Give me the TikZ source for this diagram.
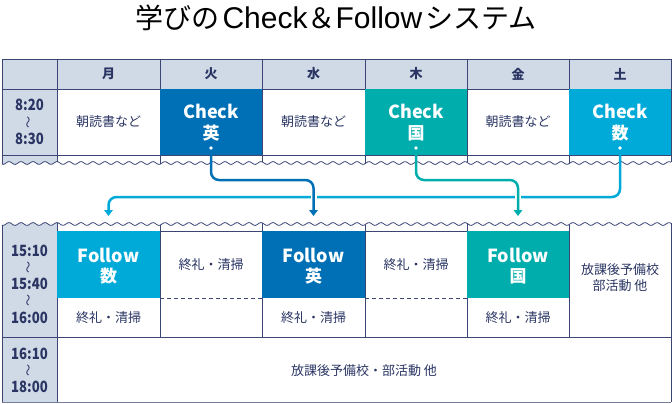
\documentclass[tikz,border=0pt]{standalone}
\usepackage{fontspec}
\usepackage{graphicx}
\setmainfont{Noto Sans CJK JP}
\newfontfamily\latinf{Liberation Sans}
\usetikzlibrary{arrows.meta}
\definecolor{hdr}{HTML}{D0DAE6}
\definecolor{nv}{HTML}{3B4675}
\definecolor{tx}{HTML}{2A3563}
\definecolor{cE}{HTML}{0070B6}
\definecolor{cK}{HTML}{00ADAD}
\definecolor{cS}{HTML}{00AAD8}
\newcommand\vtil{\rotatebox{90}{\fontsize{12}{12}\selectfont 〜}}
\tikzset{
  grid/.style={draw=nv, line width=0.8pt},
  wavy/.style={draw=nv, line width=0.8pt},
  dayt/.style={text=tx, font=\fontsize{13}{15}\selectfont\bfseries, inner sep=0pt},
  cellt/.style={text=tx, font=\fontsize{13}{16}\selectfont, align=center, inner sep=0pt},
  tmt/.style={text=tx, font=\fontsize{15.5}{17}\selectfont\bfseries, inner sep=0pt},
  tilt/.style={text=tx, inner sep=0pt},
  chkt/.style={text=white, font=\fontsize{18}{20}\selectfont\bfseries, inner sep=0pt},
  subj/.style={text=white, font=\fontsize{17}{19}\selectfont\bfseries, inner sep=0pt},
  arr/.style={line width=2.5pt, rounded corners=8pt, -{Triangle[width=8.5pt,length=6pt]}},
}
\begin{document}
\begin{tikzpicture}[x=1pt,y=-1pt,
  declare function={wv(\t)=1.4*sin(30*mod(\t,12));}]
\useasboundingbox (0,0) rectangle (672,404);
% title
\node (title) at (336,18) {\fontsize{28}{30}\selectfont 学びの\hspace{3pt}{\latinf\fontsize{30}{30}\selectfont Check}＆{\latinf\fontsize{30}{30}\selectfont Follow}\hspace{3pt}システム};
% ---------- top table fills
\fill[hdr] (2,59) rectangle (671,89);
\fill[hdr] (2,89) -- (57,89) -- plot[domain=57:2, samples=40] (\x,{163+wv(\x)}) -- cycle;
% top lines
\draw[grid] (2,59) -- (671,59);
\draw[grid] (2,89) -- (671,89);
\draw[grid] (2,155) -- (671,155);
\foreach \xx in {2,57,160,262,365,467,569,671}
  \draw[grid] (\xx,59) -- (\xx,{163+wv(\xx)});
\draw[wavy] plot[domain=2:671, samples=500] (\x,{163+wv(\x)});
% colored check cells
\fill[cE] (160,89) rectangle (262,155);
\fill[cK] (365,89) rectangle (467,155);
\fill[cS] (569,89) rectangle (671,155);
% headers
\node[dayt] (d1) at (108.5,74) {月};
\node[dayt] (d2) at (211,74) {火};
\node[dayt] (d3) at (313.5,74) {水};
\node[dayt] (d4) at (416,74) {木};
\node[dayt] (d5) at (518,74) {金};
\node[dayt] (d6) at (620,74) {土};
% time top
\node[tmt] (t1a) at (29.5,105) {\scalebox{0.85}[1]{8:20}};
\node[tilt] (t1b) at (29.5,122) {\vtil};
\node[tmt] (t1c) at (29.5,139) {\scalebox{0.85}[1]{8:30}};
% top cells
\node[cellt] (m1) at (108.5,122) {朝読書など};
\node[chkt] (ce1) at (211,111) {Check};
\node[subj] (ce2) at (211,133) {英};
\node[cellt] (m3) at (313.5,122) {朝読書など};
\node[chkt] (ck1) at (416,111) {Check};
\node[subj] (ck2) at (416,133) {国};
\node[cellt] (m5) at (518,122) {朝読書など};
\node[chkt] (cs1) at (620,111) {Check};
\node[subj] (cs2) at (620,133) {数};
% ---------- bottom table fills
\fill[hdr] plot[domain=2:57, samples=40] (\x,{224+wv(\x)}) -- (57,402) -- (2,402) -- cycle;
\foreach \xx in {57,160,262,365,467,569}
  \draw[grid] (\xx,{224+wv(\xx)}) -- (\xx,337);
\draw[grid] (57,337) -- (57,402);
\draw[grid] (2,{224+wv(2)}) -- (2,402);
\draw[grid] (671,{224+wv(671)}) -- (671,402);
\draw[grid] (57,231) -- (569,231);
\draw[grid] (2,337) -- (671,337);
\draw[grid, draw=nv!70] (2,402) -- (671,402);
\draw[grid, dash pattern=on 4pt off 3pt] (160,298) -- (262,298);
\draw[grid, dash pattern=on 4pt off 3pt] (365,298) -- (467,298);
\draw[wavy] plot[domain=2:671, samples=500] (\x,{224+wv(\x)});
\fill[cS] (57,231) rectangle (160,298);
\fill[cE] (262,231) rectangle (365,298);
\fill[cK] (467,231) rectangle (569,298);
% time bottom
\node[tmt] (t2a) at (29.5,251) {\scalebox{0.85}[1]{15:10}};
\node[tilt] (t2b) at (29.5,267.5) {\vtil};
\node[tmt] (t2c) at (29.5,284) {\scalebox{0.85}[1]{15:40}};
\node[tilt] (t2d) at (29.5,300.5) {\vtil};
\node[tmt] (t2e) at (29.5,318) {\scalebox{0.85}[1]{16:00}};
\node[tmt] (t3a) at (29.5,354) {\scalebox{0.85}[1]{16:10}};
\node[tilt] (t3b) at (29.5,370.5) {\vtil};
\node[tmt] (t3c) at (29.5,387) {\scalebox{0.85}[1]{18:00}};
% bottom cells
\node[chkt] (fs1) at (108.5,255) {Follow};
\node[subj] (fs2) at (108.5,276) {数};
\node[cellt] (s2) at (211,265) {終礼・清掃};
\node[chkt] (fe1) at (313.5,255) {Follow};
\node[subj] (fe2) at (313.5,276) {英};
\node[cellt] (s4) at (416,265) {終礼・清掃};
\node[chkt] (fk1) at (518,255) {Follow};
\node[subj] (fk2) at (518,276) {国};
\node[cellt] (h6) at (620,278) {放課後予備校\\部活動 他};
\node[cellt] (s1) at (108.5,318) {終礼・清掃};
\node[cellt] (s3) at (313.5,318) {終礼・清掃};
\node[cellt] (s5) at (518,318) {終礼・清掃};
\node[cellt] (hb) at (364,371) {放課後予備校・部活動 他};
% ---------- arrows
\coordinate (aS0) at (620,148);
\coordinate (aS1) at (108.5,216);
\coordinate (aE0) at (211,148);
\coordinate (aE1) at (313.5,216);
\coordinate (aK0) at (416,148);
\coordinate (aK1) at (518,216);
\draw[arr, cS] (aS0) -- (aS0 |- 0,197) -- (aS1 |- 0,197) -- (aS1);
\draw[white, line width=6pt] (313.5,188) -- (313.5,206);
\draw[white, line width=6pt] (518,188) -- (518,206);
\draw[arr, cE] (aE0) -- (aE0 |- 0,180) -- (aE1 |- 0,180) -- (aE1);
\draw[arr, cK] (aK0) -- (aK0 |- 0,180) -- (aK1 |- 0,180) -- (aK1);
\foreach \c in {aS0,aE0,aK0} \fill[white] (\c) circle (1.8);
\end{tikzpicture}
\end{document}
